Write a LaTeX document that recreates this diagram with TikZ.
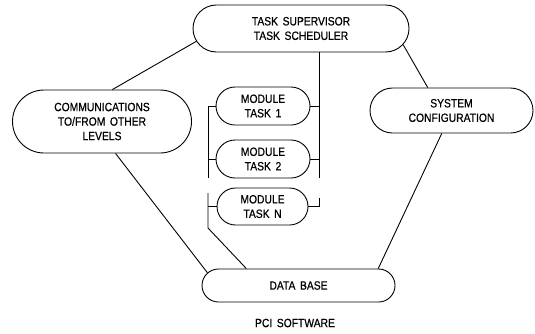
\documentclass[tikz,border=0pt]{standalone}
\usepackage{fontspec}
\setmainfont{Liberation Sans}[FakeStretch=0.86, FakeBold=0.6, WordSpace=1.6]
\usetikzlibrary{shapes.misc,calc}
\tikzset{
  box/.style={draw, rounded rectangle, line width=0.9pt, inner sep=0pt, align=center,
    font=\fontsize{12}{14.5}\selectfont},
  conn/.style={draw, line width=0.9pt},
  lbl/.style={font=\fontsize{12}{14.5}\selectfont}
}
\begin{document}
\begin{tikzpicture}[x=1pt,y=-1pt]
\useasboundingbox (0,0) rectangle (535,333);
\node[box, minimum width=216pt, minimum height=47pt] (sup) at (301,28.5) {TASK SUPERVISOR\\TASK SCHEDULER};
\node[box, minimum width=179pt, minimum height=63pt] (comm) at (102,121.5) {COMMUNICATIONS\\TO/FROM OTHER\\LEVELS};
\node[box, minimum width=163pt, minimum height=45pt] (sys) at (451.5,110.5) {SYSTEM\\CONFIGURATION};
\node[box, minimum width=94pt, minimum height=38pt] (m1) at (263,106) {MODULE\\TASK 1};
\node[box, minimum width=94pt, minimum height=38pt] (m2) at (263,159) {MODULE\\TASK 2};
\node[box, minimum width=91pt, minimum height=37pt] (mN) at (262.5,206.5) {MODULE\\TASK N};
\node[box, minimum width=193pt, minimum height=33pt] (db) at (298.5,285.5) {DATA BASE};
\node[lbl] (pci) at (295,323) {PCI SOFTWARE};
\coordinate (rb) at (319,178);
\coordinate (lb) at (208,178);
\coordinate (nt) at (208,193);
\coordinate (nb) at (208,228);
\coordinate (nr) at (319,198);
\draw[conn] (sup.187.6) -- (comm.72.4);
\draw[conn] (sup.-9.2) -- (sys.136.2);
\draw[conn] (comm.-67) -- (db.172.4);
\draw[conn] (sys.247.1) -- (db.12.8);
\draw[conn] (sup.south -| rb) -- (rb);
\draw[conn] (m1.east) -- (m1.east -| rb);
\draw[conn] (m2.east) -- (m2.east -| rb);
\draw[conn] (m1.west) -- (m1.west -| lb) -- (lb);
\draw[conn] (m2.west) -- (m2.west -| lb);
\draw[conn] (nt) -- (nb) -- (db.162.9);
\draw[conn] (mN.west) -- (mN.west -| nt);
\draw[conn] (mN.east) -- (mN.east -| nr) -- (nr);
\end{tikzpicture}
\end{document}
